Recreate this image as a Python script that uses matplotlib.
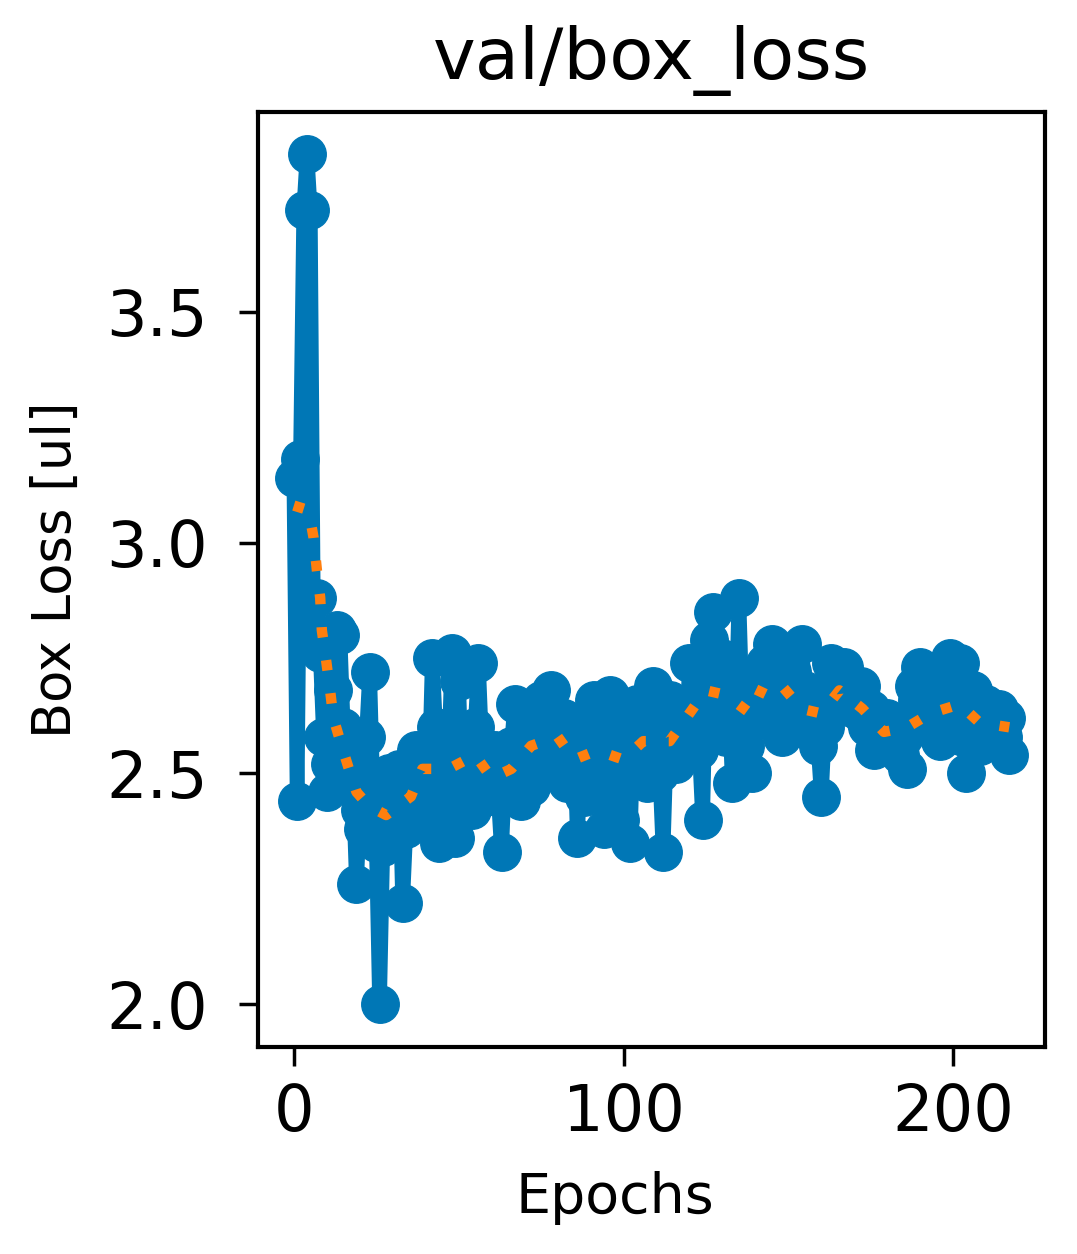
import matplotlib
matplotlib.use('Agg')
import matplotlib.pyplot as plt

# val/box_loss per epoch
loss = [
    3.14, 2.44, 3.18, 3.72, 3.84, 3.72, 2.80, 2.88, 2.76, 2.58,
    2.46, 2.52, 2.68, 2.81, 2.80, 2.60, 2.48, 2.55, 2.47, 2.26,
    2.42, 2.38, 2.58, 2.72, 2.46, 2.35, 2.00, 2.34, 2.44, 2.50,
    2.47, 2.40, 2.51, 2.22, 2.38, 2.42, 2.48, 2.55, 2.40, 2.45,
    2.52, 2.48, 2.75, 2.60, 2.35, 2.48, 2.42, 2.55, 2.76, 2.36,
    2.70, 2.45, 2.58, 2.50, 2.42, 2.60, 2.74, 2.56, 2.45, 2.52,
    2.48, 2.55, 2.45, 2.33, 2.50, 2.46, 2.56, 2.65, 2.48, 2.44,
    2.52, 2.56, 2.47, 2.62, 2.58, 2.66, 2.52, 2.60, 2.68, 2.55,
    2.50, 2.58, 2.62, 2.48, 2.56, 2.60, 2.36, 2.52, 2.45, 2.58,
    2.58, 2.66, 2.52, 2.46, 2.38, 2.60, 2.67, 2.55, 2.48, 2.40,
    2.62, 2.56, 2.35, 2.60, 2.65, 2.52, 2.58, 2.48, 2.62, 2.69,
    2.58, 2.50, 2.33, 2.56, 2.66, 2.58, 2.52, 2.62, 2.64, 2.56,
    2.74, 2.60, 2.66, 2.55, 2.40, 2.72, 2.79, 2.85, 2.70, 2.62,
    2.75, 2.58, 2.66, 2.48, 2.60, 2.88, 2.64, 2.56, 2.70, 2.50,
    2.66, 2.72, 2.62, 2.74, 2.70, 2.78, 2.66, 2.60, 2.58, 2.68,
    2.62, 2.72, 2.66, 2.60, 2.78, 2.68, 2.64, 2.59, 2.62, 2.56,
    2.45, 2.60, 2.68, 2.74, 2.70, 2.66, 2.72, 2.73, 2.66, 2.68,
    2.64, 2.66, 2.69, 2.62, 2.60, 2.64, 2.55, 2.60, 2.58, 2.59,
    2.62, 2.58, 2.56, 2.60, 2.54, 2.58, 2.51, 2.60, 2.69, 2.66,
    2.73, 2.68, 2.60, 2.64, 2.66, 2.62, 2.57, 2.64, 2.70, 2.75,
    2.66, 2.62, 2.74, 2.58, 2.50, 2.60, 2.68, 2.63, 2.56, 2.62,
    2.65, 2.58, 2.60, 2.62, 2.64, 2.58, 2.62, 2.54,
]
epochs = list(range(len(loss)))

# smoothed trend (orange dotted)
smooth_x = [0, 4.5, 6, 7, 8, 8.5, 9.7, 11, 12, 14.5, 16.7, 19, 22.7, 28,
            35.5, 39, 47, 55, 60, 66, 72, 80, 85, 92, 100, 106, 114, 119,
            125, 131, 138.5, 142.5, 148, 154, 160, 165.5, 172.5, 179, 186,
            193, 202, 208, 217]
smooth_y = [3.08, 3.07, 3.01, 2.94, 2.88, 2.81, 2.75, 2.68, 2.62, 2.56,
            2.51, 2.46, 2.43, 2.41, 2.45, 2.51, 2.51, 2.54, 2.49, 2.51,
            2.56, 2.58, 2.53, 2.55, 2.53, 2.57, 2.57, 2.62, 2.68, 2.67,
            2.63, 2.69, 2.69, 2.64, 2.63, 2.68, 2.64, 2.59, 2.60, 2.63,
            2.65, 2.61, 2.60]

fig = plt.figure(figsize=(10.77, 12.54), dpi=100)
ax = fig.add_axes([0.2396, 0.1651, 0.7307, 0.7456])

ax.plot(epochs, loss, color='#0077b6', marker='o', linewidth=10.5,
        markersize=27)
ax.plot(smooth_x, smooth_y, color='#ff7f0e', linewidth=7.5,
        linestyle=(0, (1, 2.2)))

ax.set_title('val/box_loss', fontsize=52, pad=24)
ax.set_xlabel('Epochs', fontsize=40, labelpad=20)
ax.set_ylabel('Box Loss [ul]', fontsize=38, labelpad=18)
# labels sit a little off-centre in the original
ax.xaxis.label.set_x(0.454)
ax.yaxis.label.set_y(0.51)

ax.set_xticks([0, 100, 200])
ax.set_yticks([2.0, 2.5, 3.0, 3.5])
ax.tick_params(labelsize=46, length=14, width=2.5)
ax.tick_params(axis='x', pad=11)
ax.tick_params(axis='y', pad=22)
for s in ax.spines.values():
    s.set_linewidth(3)

plt.savefig('out.png', dpi=100)
